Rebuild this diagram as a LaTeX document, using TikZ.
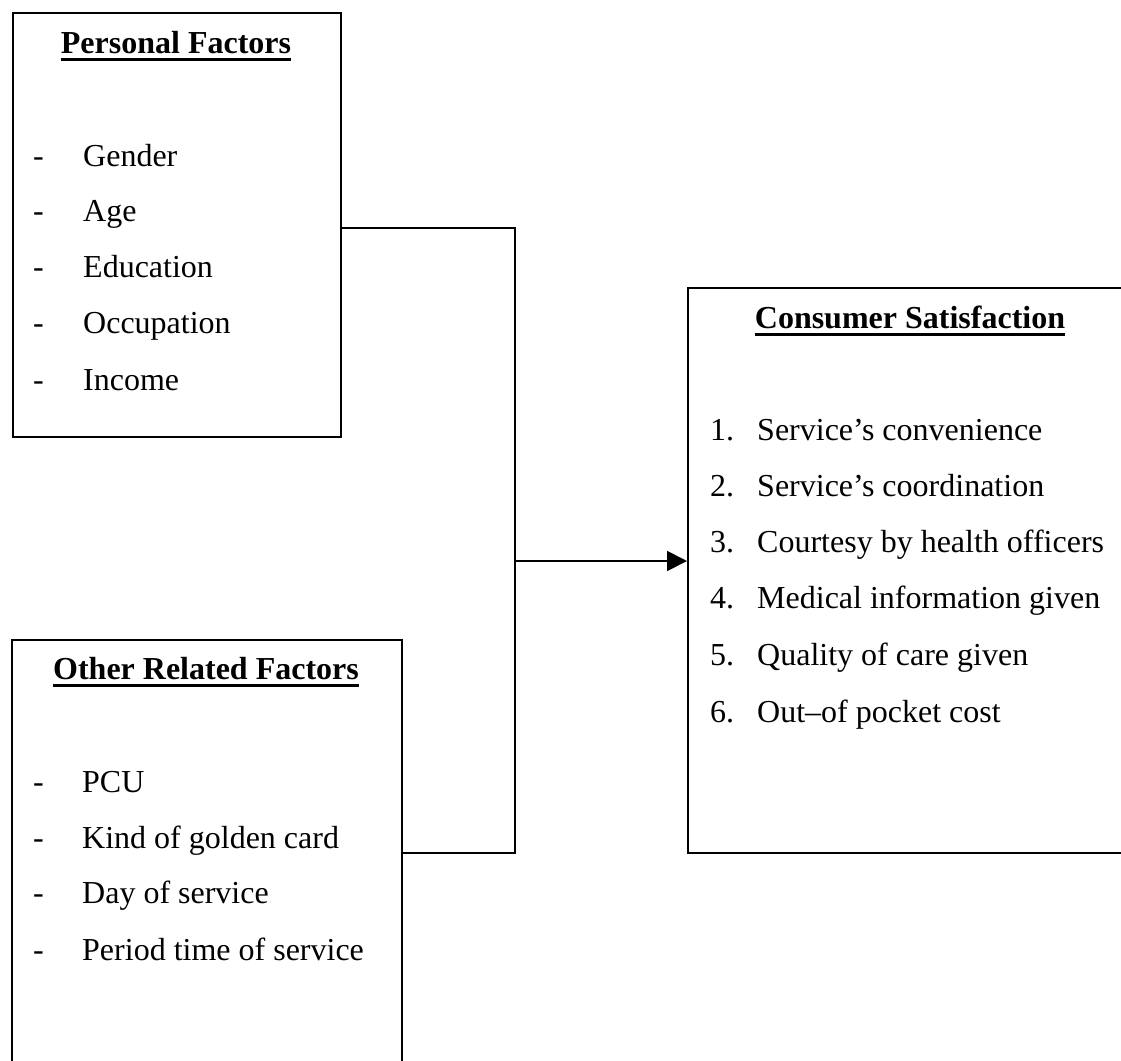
\documentclass[tikz,border=0pt]{standalone}
\usepackage{fontspec}
\setmainfont{Liberation Serif}
\usetikzlibrary{arrows.meta}
\begin{document}
\begin{tikzpicture}[x=1pt,y=-1pt,
  boxstyle/.style={draw, line width=2pt, rectangle, inner sep=0pt, anchor=north west},
  item/.style={anchor=base west, inner sep=0pt, font=\fontsize{32}{38}\selectfont},
  ttl/.style={anchor=base, inner sep=0pt, font=\fontsize{32}{38}\selectfont\bfseries},
  uline/.style={line width=2.2pt},
  conn/.style={line width=1.8pt},
  ]
\useasboundingbox (0,0) rectangle (1121,1060);
\clip (0,0) rectangle (1121,1060);
\fill[white] (0,0) rectangle (1121,1060);

% boxes
\node[boxstyle, minimum width=328pt, minimum height=424pt] (pf) at (12,12) {};
\node[boxstyle, minimum width=390pt, minimum height=460pt] (ob) at (11,639) {};
\node[boxstyle, minimum width=470pt, minimum height=565pt] (cs) at (687,287) {};

% Personal factors
\node[ttl] (pft) at (176,53) {Personal Factors};
\draw[uline] ([yshift=-6.5pt]pft.base west) -- ([yshift=-6.5pt]pft.base east);
\foreach \y/\t [count=\i] in {166/Gender,221/Age,277/Education,333/Occupation,390/Income}{
  \node[item] (pfd\i) at (33,\y) {-};
  \node[item] (pfi\i) at (83,\y) {\t};
}

% Other related factors
\node[ttl] (obt) at (206,679) {Other Related Factors};
\draw[uline] ([yshift=-6.5pt]obt.base west) -- ([yshift=-6.5pt]obt.base east);
\foreach \y/\t [count=\i] in {792/PCU,848/Kind of golden card,903/Day of service,960/Period time of service}{
  \node[item] (obd\i) at (33,\y) {-};
  \node[item] (obi\i) at (82,\y) {\t};
}

% Consumer satisfaction
\node[ttl] (cst) at (910,328) {Consumer Satisfaction};
\draw[uline] ([yshift=-6.5pt]cst.base west) -- ([yshift=-6.5pt]cst.base east);
\foreach \y/\t [count=\i] in {440/Service’s convenience,496/Service’s coordination,552/Courtesy by health officers,608/Medical information given,665/Quality of care given,722/Out–of pocket cost}{
  \node[item] (csn\i) at (710,\y) {\i.};
  \node[item] (csi\i) at (757,\y) {\t};
}

% connectors
\coordinate (j1) at (515,228);
\coordinate (j2) at (515,853);
\coordinate (jm) at (515,561);
\draw[conn] (pf.east |- j1) -- (j1) -- (j2) -- (ob.east |- j2);
\draw[conn, -{Triangle[length=20pt,width=20pt]}] (jm) -- (cs.west |- jm);
\end{tikzpicture}
\end{document}
